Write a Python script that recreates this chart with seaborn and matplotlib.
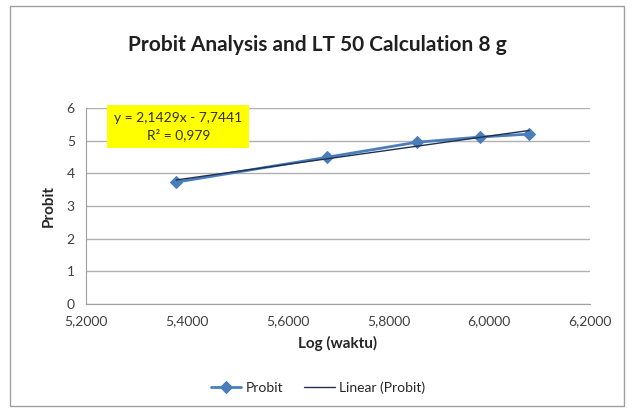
import numpy as np
import pandas as pd
import matplotlib
matplotlib.use("Agg")
import matplotlib.pyplot as plt
import seaborn as sns
from matplotlib.ticker import FuncFormatter
from matplotlib.patches import Rectangle

# Daten
log_waktu = [5.379, 5.678, 5.856, 5.982, 6.079]
probit = [3.73, 4.49, 4.95, 5.11, 5.20]
x_ticks = [5.2, 5.4, 5.6, 5.8, 6.0, 6.2]
y_ticks = [0, 1, 2, 3, 4, 5, 6]
equation_text = "y = 2,1429x - 7,7441\nR² = 0,979"

df = pd.DataFrame({"Log (waktu)": log_waktu, "Probit": probit})

sns.set_style("white")
plt.rcParams['font.family'] = ['Lato', 'DejaVu Sans']

fig = plt.figure(figsize=(6.34, 4.12), dpi=100)
ax = fig.add_axes([0.1356, 0.262, 0.795, 0.476])

# Aeusserer Rahmen wie im Excel-Diagramm
fig.patches.append(Rectangle((0.016, 0.015), 0.968, 0.97, transform=fig.transFigure,
                             fill=False, edgecolor='#a0a0a0', linewidth=1.0))

# Datenreihe und lineare Trendlinie
sns.lineplot(data=df, x="Log (waktu)", y="Probit", ax=ax, color='#4a7ebb', linewidth=2.0,
             marker='D', markersize=6, markeredgecolor='#4a7ebb', label='Probit', zorder=3)
sns.regplot(data=df, x="Log (waktu)", y="Probit", ax=ax, scatter=False, ci=None,
            line_kws={'color': '#1f2f4f', 'linewidth': 1.0, 'zorder': 4}, label='Linear (Probit)')

ax.set_xlim(5.2, 6.2)
ax.set_ylim(0, 6)
ax.set_xticks(x_ticks)
ax.set_yticks(y_ticks)
ax.xaxis.set_major_formatter(FuncFormatter(lambda v, p: f"{v:.4f}".replace('.', ',')))
ax.grid(axis='y', color='#b0b0b0', linewidth=1.0)
ax.set_axisbelow(True)
for s in ['top', 'right']:
    ax.spines[s].set_visible(False)
for s in ['left', 'bottom']:
    ax.spines[s].set_color('#a0a0a0')
ax.tick_params(axis='both', which='both', direction='out', length=4, color='#a0a0a0',
               labelsize=10, labelcolor='#404040', pad=4)

ax.set_xlabel('Log (waktu)', fontsize=11, fontweight='bold', labelpad=6)
ax.set_ylabel('Probit', fontsize=11, fontweight='bold', labelpad=8)
fig.suptitle('Probit Analysis and LT 50 Calculation 8 g', fontsize=15, fontweight='bold',
             y=0.915, color='#202020')

ax.text(5.383, 5.43, equation_text, fontsize=10, ha='center', va='center', color='#303030',
        linespacing=1.4,
        bbox=dict(boxstyle='square,pad=0.5', facecolor='#ffff00', edgecolor='none'))

ax.legend(loc='upper center', bbox_to_anchor=(0.46, -0.33), ncol=2, frameon=False,
          fontsize=10, handlelength=2.2, columnspacing=1.5, handletextpad=0.3)

fig.savefig('out.png', dpi=100)
